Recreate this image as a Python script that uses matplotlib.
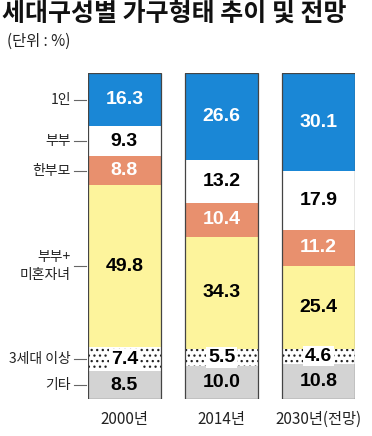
import matplotlib.pyplot as plt
import numpy as np

plt.rcParams['font.family'] = ['Noto Sans CJK KR', 'DejaVu Sans']
plt.rcParams['hatch.linewidth'] = 0.9

# data
years = ['2000년', '2014년', '2030년(전망)']
categories = ['기타', '3세대 이상', '부부+\n미혼자녀', '한부모', '부부', '1인']
etc_vals = [8.5, 10.0, 10.8]
three_gen = [7.4, 5.5, 4.6]
couple_kids = [49.8, 34.3, 25.4]
single_parent = [8.8, 10.4, 11.2]
couple = [9.3, 13.2, 17.9]
one_person = [16.3, 26.6, 30.1]

series = [etc_vals, three_gen, couple_kids, single_parent, couple, one_person]
colors = ['#d3d3d3', '#ffffff', '#fdf49c', '#e8906e', '#ffffff', '#1a87d6']
txt_colors = ['black', 'black', 'black', 'white', 'black', 'white']
hatches = [None, '...', None, None, None, None]

fig = plt.figure(figsize=(3.72, 4.36), dpi=100)
ax = fig.add_axes([0.2366, 0.0849, 0.7177, 0.7477])

x = np.arange(len(years))
w = 0.75
bottom = np.zeros(len(years))
num_font = ['Liberation Sans', 'DejaVu Sans']
for vals, c, tc, h, cat in zip(series, colors, txt_colors, hatches, categories):
    vals = np.array(vals)
    if h:
        ax.bar(x, vals, w, bottom=bottom, color=c, hatch=h, edgecolor='#222222', linewidth=0)
    else:
        ax.bar(x, vals, w, bottom=bottom, color=c, edgecolor='none', linewidth=0)
    for xi, v, b in zip(x, vals, bottom):
        kw = {}
        if h:
            kw['bbox'] = dict(boxstyle='square,pad=0.08', fc='white', ec='none')
        ax.text(xi, b + v / 2, f'{v:.1f}', ha='center', va='center', color=tc,
                fontsize=14, fontweight='bold', family=num_font, **kw)
    # category label next to first bar
    yc = bottom[0] + vals[0] / 2
    ax.plot([-0.52, -0.395], [yc, yc], color='#666666', lw=0.8, clip_on=False)
    ax.text(-0.55, yc, cat, ha='right', va='center', fontsize=10, color='#222222',
            linespacing=1.3)
    bottom += vals

# outline of each bar
ax.bar(x, bottom, w, fill=False, edgecolor='#444444', linewidth=0.9)

ax.set_xlim(-0.375, 2.375)
ax.set_ylim(0, bottom.max())
ax.axis('off')

for xi, yr in zip(x, years):
    ax.text(xi, -6.3, yr, ha='center', va='center', fontsize=11, color='#222222')

fig.text(0.005, 0.995, '세대구성별 가구형태 추이 및 전망', ha='left', va='top',
         fontsize=18, fontweight='bold', color='#111111')
fig.text(0.02, 0.905, '(단위 : %)', ha='left', va='center', fontsize=11, color='#222222')

fig.savefig('out.png', dpi=100)
